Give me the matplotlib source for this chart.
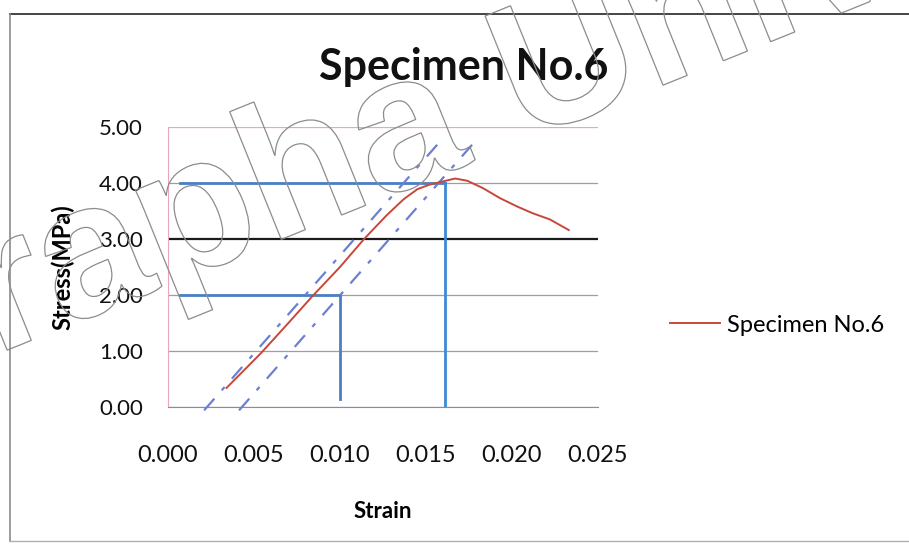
import matplotlib.pyplot as plt
from matplotlib.patches import PathPatch
from matplotlib.textpath import TextPath
from matplotlib.font_manager import FontProperties
from matplotlib.transforms import Affine2D, IdentityTransform
from matplotlib.lines import Line2D

plt.rcParams['font.family'] = ['Lato', 'DejaVu Sans']

# measured stress-strain curve
strain = [0.0034, 0.0054, 0.0070, 0.0084, 0.0100, 0.0114, 0.0127, 0.0137, 0.0145,
          0.0152, 0.0160, 0.0167, 0.0174, 0.0183, 0.0193, 0.0203, 0.0212, 0.0222, 0.0233]
stress = [0.34, 0.96, 1.50, 1.98, 2.50, 3.00, 3.42, 3.71, 3.89,
          3.97, 4.03, 4.08, 4.04, 3.91, 3.73, 3.58, 3.46, 3.35, 3.16]

# read-off lines (stress level -> strain)
level_stress = [2.00, 4.00]
level_strain = [0.0100, 0.0161]
level_start = 0.0007
drop_bottom = [0.15, 0.00]

# modulus line and 0.2% offset line
modulus = 350.0
offset_strain = [0.00227, 0.0043]
offset_top = [4.80, 4.70]
offset_bottom = -0.06

xticks = [0.000, 0.005, 0.010, 0.015, 0.020, 0.025]
yticks = [0.00, 1.00, 2.00, 3.00, 4.00, 5.00]

W, H = 909, 546
fig = plt.figure(figsize=(W / 100, H / 100), dpi=100)
ax = fig.add_axes([168 / W, 139 / H, 430 / W, 280 / H])

ax.plot(strain, stress, color='#C8473A', lw=1.4, label='Specimen No.6', zorder=5)

for s, e, b, c in zip(level_stress, level_strain, drop_bottom, ['#4A7FC4', '#3D8AD6']):
    ax.plot([level_start, e], [s, s], color='#4A7FC4', lw=2.0, zorder=4)
    ax.plot([e, e], [s, b], color=c, lw=2.0, zorder=4)

for x0, top in zip(offset_strain, offset_top):
    ax.plot([x0 + offset_bottom / modulus, x0 + top / modulus], [offset_bottom, top],
            color='#6C80D2', lw=1.6, dashes=(7, 5, 2, 5), zorder=4, clip_on=False)

ax.set_xlim(0, 0.025)
ax.set_ylim(0, 5)
ax.set_xticks(xticks)
ax.set_yticks(yticks)
ax.set_xticklabels([f'{v:.3f}' for v in xticks])
ax.set_yticklabels([f'{v:.2f}' for v in yticks])
ax.tick_params(axis='x', length=0, pad=27, labelsize=17, colors='#111')
ax.tick_params(axis='y', length=0, pad=18, labelsize=16, colors='#111')

ax.yaxis.grid(True, color='#9c9cae', lw=0.9)
grid = ax.get_ygridlines()
grid[3].set_color('#1a1a1a')
grid[3].set_linewidth(1.6)
grid[5].set_color('#E4A6C2')

ax.spines['top'].set_visible(False)
ax.spines['right'].set_visible(False)
ax.spines['left'].set_color('#E8A6C0')
ax.spines['bottom'].set_color('#8A8AA4')

ax.set_xlabel('Strain', fontsize=16, fontweight='bold')
ax.xaxis.label.set_va('center')
ax.xaxis.set_label_coords(0.5, -0.375)
ax.set_ylabel('Stress(MPa)', fontsize=17, fontweight='bold')
ax.yaxis.label.set_va('center')
ax.yaxis.set_label_coords(-0.244, 0.5)

fig.text(464 / W, 1 - 67 / H, 'Specimen No.6', ha='center', va='center',
         fontsize=31, fontweight='bold', color='#111')

ax.legend(loc='center left', bbox_to_anchor=(670 / W, 1 - 325 / H),
          bbox_transform=fig.transFigure, frameon=False, fontsize=17,
          borderpad=0, borderaxespad=0, handlelength=2.1, handletextpad=0.3)

# chart frame
fig.add_artist(Line2D([10 / W, 1], [1 - 14 / H] * 2, color='#444', lw=1.4))
fig.add_artist(Line2D([10 / W] * 2, [1 - 14 / H, 1 - 541 / H], color='#8a8a8a', lw=1.2))
fig.add_artist(Line2D([10 / W, 1], [1 - 541 / H] * 2, color='#b0b0b0', lw=1.0))

# outlined watermark across the chart
wm = TextPath((0, 0), 'Burapha University', size=190,
              prop=FontProperties(family='Liberation Sans', weight='bold'))
wm_tf = Affine2D().rotate_deg(22).translate(-240, H - 450)
fig.add_artist(PathPatch(wm, transform=wm_tf + IdentityTransform(), facecolor='none',
                         edgecolor='#8c8c8c', lw=0.9, zorder=10))

fig.savefig('out.png', dpi=100, facecolor='white')
